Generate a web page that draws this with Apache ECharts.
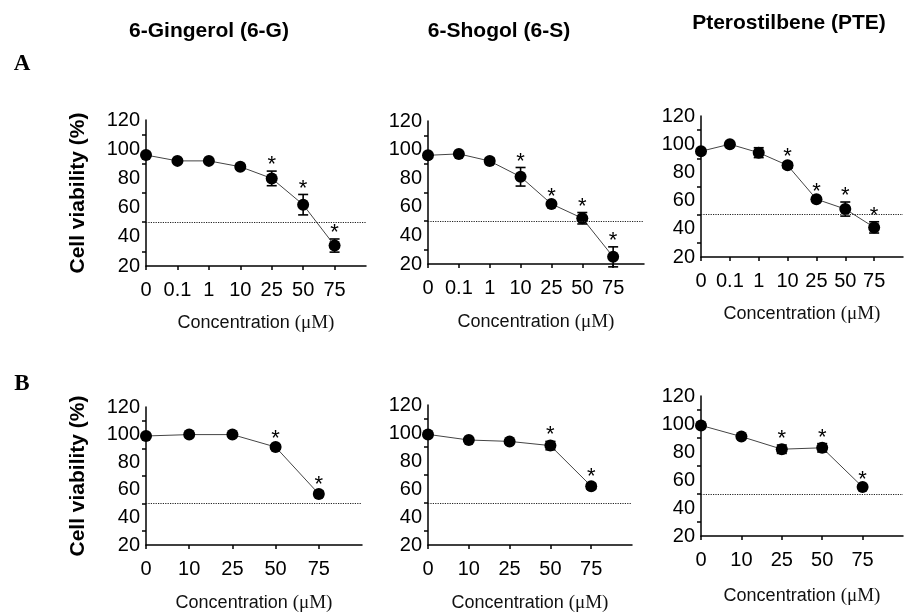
<!DOCTYPE html>
<html>
<head>
<meta charset="utf-8">
<script src="https://cdn.jsdelivr.net/npm/echarts@6/dist/echarts.min.js"></script>
<style>
  html, body { margin: 0; padding: 0; background: #fff; }
  #chart { width: 906px; height: 614px; }
</style>
</head>
<body>
<div id="chart"></div>
<script>
  // row A: 0 - 75 uM, row B: 0 - 75 uM (fewer doses)
  var catsA = ["0", "0.1", "1", "10", "25", "50", "75"];
  var catsB = ["0", "10", "25", "50", "75"];
  var yTicks = [20, 40, 60, 80, 100, 120];

  var gingerolA = [96, 92, 92, 88, 80, 62, 34];
  var gingerolAErr = [1, 1, 1, 1.5, 5, 7, 4.5];
  var gingerolAStars = [4, 5, 6];

  var shogolA = [96, 97, 92, 81, 62, 52, 25];
  var shogolAErr = [1, 1, 2, 6.5, 1, 4, 7];
  var shogolAStars = [3, 4, 5, 6];

  var pteA = [95, 100, 94, 85, 61, 54, 41];
  var pteAErr = [1, 1, 3.5, 2, 1, 5, 4];
  var pteAStars = [3, 4, 5, 6];

  var gingerolB = [99, 100, 100, 91, 57];
  var gingerolBErr = [1, 1, 1, 1.5, 2];
  var gingerolBStars = [3, 4];

  var shogolB = [99, 95, 94, 91, 62];
  var shogolBErr = [1, 1, 1, 3, 2];
  var shogolBStars = [3, 4];

  var pteB = [99, 91, 82, 83, 55];
  var pteBErr = [1, 1, 3, 3, 1];
  var pteBStars = [2, 3, 4];

  var threshold = 50;

  var FONT = "'Liberation Sans', Arial, sans-serif";

  var panels = [
    {rect: [146, 120, 220, 146], cats: catsA, vals: gingerolA, err: gingerolAErr, stars: gingerolAStars, yName: true, nameGap: 48},
    {rect: [428, 121, 216, 143], cats: catsA, vals: shogolA, err: shogolAErr, stars: shogolAStars, yName: false, nameGap: 49},
    {rect: [701, 116, 205, 141], cats: catsA, vals: pteA, err: pteAErr, stars: pteAStars, yName: false, nameGap: 48},
    {rect: [146, 407, 216, 140], cats: catsB, vals: gingerolB, err: gingerolBErr, stars: gingerolBStars, yName: true, nameGap: 49},
    {rect: [428, 405, 204, 140], cats: catsB, vals: shogolB, err: shogolBErr, stars: shogolBStars, yName: false, nameGap: 49},
    {rect: [701, 396, 205, 140], cats: catsB, vals: pteB, err: pteBErr, stars: pteBStars, yName: false, nameGap: 51}
  ];

  var grids = [], xAxes = [], yAxes = [], series = [];

  panels.forEach(function (p, i) {
    grids.push({left: p.rect[0], top: p.rect[1], width: p.rect[2], height: p.rect[3]});

    var n = p.cats.length;
    xAxes.push({
      gridIndex: i,
      type: "category",
      data: p.cats.concat([""]),
      boundaryGap: false,
      axisLine: {lineStyle: {color: "#000", width: 1.5}},
      axisTick: {
        show: true,
        length: 4,
        interval: function (idx) { return idx < n; },
        lineStyle: {color: "#000", width: 1.5}
      },
      axisLabel: {interval: 0, color: "#000", fontSize: 20, fontFamily: FONT, margin: 14},
      name: "{a|Concentration }{b|(μM)}",
      nameLocation: "middle",
      nameGap: p.nameGap,
      nameTextStyle: {
        rich: {
          a: {fontSize: 18, fontFamily: FONT, color: "#111"},
          b: {fontSize: 19, fontFamily: "'Liberation Serif', 'Times New Roman', serif", color: "#111"}
        }
      }
    });

    yAxes.push({
      gridIndex: i,
      type: "value",
      min: yTicks[0],
      max: yTicks[yTicks.length - 1],
      interval: 20,
      splitLine: {show: false},
      axisLine: {show: true, lineStyle: {color: "#000", width: 1.5}},
      axisTick: {show: false},
      minorTick: {show: true, splitNumber: 2, length: 4, lineStyle: {color: "#000", width: 1.5}},
      axisLabel: {color: "#000", fontSize: 20, fontFamily: FONT, margin: 6},
      name: p.yName ? "Cell viability (%)" : "",
      nameLocation: "middle",
      nameGap: 57,
      nameTextStyle: {fontSize: 21, fontWeight: "bold", fontFamily: FONT, color: "#000"}
    });

    var vals = p.vals, err = p.err;

    series.push({
      type: "line",
      xAxisIndex: i,
      yAxisIndex: i,
      data: vals,
      symbol: "circle",
      symbolSize: 12,
      itemStyle: {color: "#000"},
      lineStyle: {color: "#444", width: 1},
      animation: false,
      z: 3,
      markLine: {
        silent: true,
        symbol: "none",
        label: {show: false},
        lineStyle: {type: "dotted", color: "#222", width: 1.2},
        data: [{yAxis: threshold}]
      }
    });

    series.push({
      type: "custom",
      xAxisIndex: i,
      yAxisIndex: i,
      animation: false,
      z: 4,
      data: vals.map(function (v, k) { return [k, v - err[k], v + err[k]]; }),
      encode: {x: 0, y: [1, 2]},
      renderItem: function (params, api) {
        var lo = api.coord([api.value(0), api.value(1)]);
        var hi = api.coord([api.value(0), api.value(2)]);
        var w = 5;
        var st = {stroke: "#000", lineWidth: 1.6};
        return {
          type: "group",
          children: [
            {type: "line", shape: {x1: lo[0], y1: lo[1], x2: hi[0], y2: hi[1]}, style: st},
            {type: "line", shape: {x1: lo[0] - w, y1: lo[1], x2: lo[0] + w, y2: lo[1]}, style: st},
            {type: "line", shape: {x1: hi[0] - w, y1: hi[1], x2: hi[0] + w, y2: hi[1]}, style: st}
          ]
        };
      }
    });

    series.push({
      type: "custom",
      xAxisIndex: i,
      yAxisIndex: i,
      animation: false,
      z: 5,
      data: p.stars.map(function (k) { return [k, vals[k] + err[k]]; }),
      renderItem: function (params, api) {
        var pt = api.coord([api.value(0), api.value(1)]);
        return {
          type: "text",
          style: {
            text: "*",
            x: pt[0],
            y: pt[1] - 6,
            textAlign: "center",
            textVerticalAlign: "middle",
            font: "22px " + FONT,
            fill: "#000"
          }
        };
      }
    });
  });

  var titleFont = "bold 21px " + FONT;
  var letterFont = "bold 23px 'Liberation Serif', 'Times New Roman', serif";

  var chart = echarts.init(document.getElementById("chart"));
  chart.setOption({
    animation: false,
    grid: grids,
    xAxis: xAxes,
    yAxis: yAxes,
    series: series,
    graphic: [
      {type: "text", x: 209, y: 31, style: {text: "6-Gingerol (6-G)", font: titleFont, fill: "#000", textAlign: "center", textVerticalAlign: "middle"}},
      {type: "text", x: 499, y: 31, style: {text: "6-Shogol (6-S)", font: titleFont, fill: "#000", textAlign: "center", textVerticalAlign: "middle"}},
      {type: "text", x: 789, y: 23, style: {text: "Pterostilbene (PTE)", font: titleFont, fill: "#000", textAlign: "center", textVerticalAlign: "middle"}},
      {type: "text", x: 22, y: 64, style: {text: "A", font: letterFont, fill: "#000", textAlign: "center", textVerticalAlign: "middle"}},
      {type: "text", x: 22, y: 384, style: {text: "B", font: letterFont, fill: "#000", textAlign: "center", textVerticalAlign: "middle"}}
    ]
  });
</script>
</body>
</html>
